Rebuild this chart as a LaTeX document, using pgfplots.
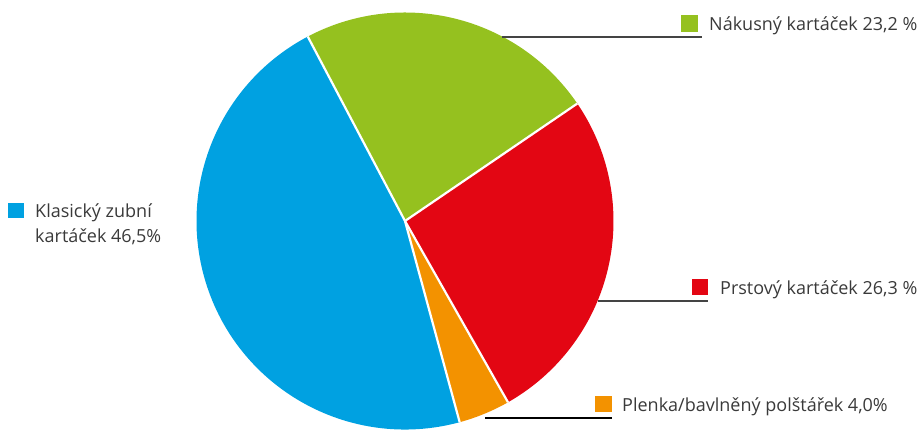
\documentclass[border=0pt]{standalone}
\usepackage{fontspec}
\setmainfont{Open Sans}
\usepackage{pgfplots}
\pgfplotsset{compat=1.18}
\definecolor{pblue}{HTML}{00A1E1}
\definecolor{pgreen}{HTML}{95C11F}
\definecolor{pred}{HTML}{E30613}
\definecolor{porange}{HTML}{F39200}
\definecolor{ptext}{HTML}{3A3A3A}
\definecolor{pline}{HTML}{444444}
% slice values (percent), clockwise from the blue/green boundary
\def\vGreen{23.2}
\def\vRed{26.3}
\def\vOrange{4.0}
\def\vBlue{46.5}
\pgfmathsetmacro{\aA}{117.8}
\pgfmathsetmacro{\aB}{\aA-\vGreen*3.6}
\pgfmathsetmacro{\aC}{\aB-\vRed*3.6}
\pgfmathsetmacro{\aD}{\aC-\vOrange*3.6}
\pgfmathsetmacro{\aE}{\aD-\vBlue*3.6}
\begin{document}
\begin{tikzpicture}
\begin{axis}[
  width=922bp, height=430bp, scale only axis,
  xmin=0, xmax=922, ymin=0, ymax=430,
  hide axis, clip=false,
]
\def\R{208.5bp}
\fill[pgreen]  (axis cs:405,209) -- ++(\aA:\R) arc[start angle=\aA, end angle=\aB, radius=\R] -- cycle;
\fill[pred]    (axis cs:405,209) -- ++(\aB:\R) arc[start angle=\aB, end angle=\aC, radius=\R] -- cycle;
\fill[porange] (axis cs:405,209) -- ++(\aC:\R) arc[start angle=\aC, end angle=\aD, radius=\R] -- cycle;
\fill[pblue]   (axis cs:405,209) -- ++(\aD:\R) arc[start angle=\aD, end angle=\aE, radius=\R] -- cycle;
\draw[white, line width=2.2bp] (axis cs:405,209) -- ++(\aA:\R);
\draw[white, line width=2.2bp] (axis cs:405,209) -- ++(\aB:\R);
\draw[white, line width=2.2bp] (axis cs:405,209) -- ++(\aC:\R);
\draw[white, line width=2.2bp] (axis cs:405,209) -- ++(\aD:\R);
% leader lines
\draw[pline, line width=1.4bp] (axis cs:502,393) -- (axis cs:702,393);
\draw[pline, line width=1.4bp] (axis cs:598,129) -- (axis cs:708,129);
\draw[black, line width=1.4bp] (axis cs:485,12) -- (axis cs:612,12);
% legend squares
\fill[pgreen]  (axis cs:681,398) rectangle (axis cs:698,415);
\fill[pred]    (axis cs:692,135) rectangle (axis cs:708,151);
\fill[porange] (axis cs:595,18) rectangle (axis cs:612,34);
\fill[pblue]   (axis cs:8,212) rectangle (axis cs:24,227);
% labels
\begin{scope}[every node/.style={font=\fontsize{18bp}{25bp}\selectfont, text=ptext, inner sep=0pt, anchor=base west}]
\node at (axis cs:709,400) {Nákusný kartáček 23,2 \%};
\node at (axis cs:720,136) {Prstový kartáček 26,3 \%};
\node at (axis cs:622,19) {Plenka/bavlněný polštářek 4,0\%};
\node at (axis cs:35,213) {Klasický zubní};
\node at (axis cs:35,188) {kartáček 46,5\%};
\end{scope}
\end{axis}
\pgfresetboundingbox
\path[use as bounding box] (current axis.south west) rectangle (current axis.north east);
\end{tikzpicture}
\end{document}
